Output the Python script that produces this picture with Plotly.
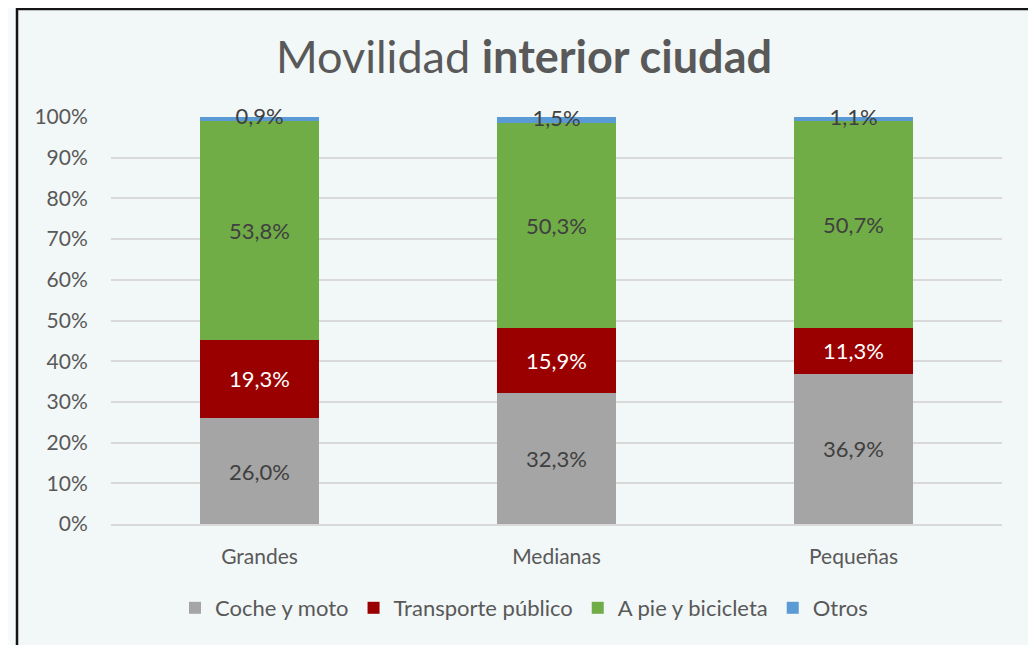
import plotly.graph_objects as go

categories = ["Grandes", "Medianas", "Pequeñas"]
series_names = ["Coche y moto", "Transporte público", "A pie y bicicleta", "Otros"]
coche = [26.0, 32.3, 36.9]
transporte = [19.3, 15.9, 11.3]
a_pie = [53.8, 50.3, 50.7]
otros = [0.9, 1.5, 1.1]

colors = ["#A5A5A5", "#9A0000", "#70AD47", "#5B9BD5"]
text_colors = ["#404040", "#FFFFFF", "#404040", "#404040"]
FONT = "Lato"

# figure-space geometry (page is offset by 8px body margin)
L, R, T, B = 103, 42, 109, 129
PW, PH = 1036 - L - R, 645 - T - B

def fmt(v):
    return f"{v:.1f}%".replace(".", ",")

fig = go.Figure()
all_series = [coche, transporte, a_pie, otros]
for i, (name, vals) in enumerate(zip(series_names, all_series)):
    is_last = i == 3
    fig.add_trace(go.Bar(
        x=categories, y=[v / 100 for v in vals], name=name,
        marker=dict(color=colors[i], line=dict(width=0)),
        text=None if is_last else [fmt(v) for v in vals],
        textposition="none" if is_last else "inside",
        insidetextanchor="middle",
        textangle=0,
        textfont=dict(family=FONT, size=22, color=text_colors[i]),
        hoverinfo="skip",
    ))

# labels for the thin "Otros" segment, centred on it
tops = [(c + t + a + o / 2) / 100 for c, t, a, o in zip(coche, transporte, a_pie, otros)]
fig.add_trace(go.Scatter(
    x=categories, y=tops, mode="text", text=[fmt(v) for v in otros],
    textposition="middle center",
    textfont=dict(family=FONT, size=22, color="#404040"),
    showlegend=False, hoverinfo="skip", cliponaxis=False,
))

# frame around chart
fig.add_shape(type="rect", xref="paper", yref="paper",
              x0=(9 - L) / PW, x1=(1022 - L) / PW,
              y0=(645 - B - 660) / PH, y1=(645 - B - 1) / PH,
              line=dict(color="#151515", width=2.5), fillcolor="#F2F7F7", layer="below")

fig.update_layout(
    barmode="stack",
    bargap=0.6,
    width=1036, height=645,
    autosize=False,
    margin=dict(l=L, r=R, t=T, b=B, autoexpand=False),
    paper_bgcolor="#F8FBFB",
    plot_bgcolor="rgba(0,0,0,0)",
    font=dict(family=FONT, color="#595959", size=21),
    uniformtext=dict(minsize=22, mode="show"),
    title=dict(text="Movilidad <b>interior ciudad</b>", x=(516 - 0) / 1036, xref="container",
               xanchor="center", y=1 - 49 / 645, yref="container", yanchor="middle",
               font=dict(family=FONT, size=45, color="#595959")),
    legend=dict(orientation="h", x=(516 - L) / PW, xanchor="center",
                y=(645 - B - 600) / PH, yanchor="middle",
                font=dict(family=FONT, size=22, color="#595959"),
                bgcolor="rgba(0,0,0,0)", traceorder="normal"),
    showlegend=True,
)
fig.update_yaxes(range=[0, 1.0], tickformat=".0%", dtick=0.1,
                 showgrid=True, gridcolor="#D9D9D9", gridwidth=1.5,
                 zeroline=False, showline=False,
                 ticks="outside", ticklen=18, tickcolor="rgba(0,0,0,0)",
                 tickfont=dict(family=FONT, size=21, color="#595959"))
fig.update_xaxes(showline=True, linecolor="#D9D9D9", linewidth=1.5,
                 ticks="outside", ticklen=13, tickcolor="rgba(0,0,0,0)",
                 tickfont=dict(family=FONT, size=21, color="#595959"))

fig.write_html("out.html")
